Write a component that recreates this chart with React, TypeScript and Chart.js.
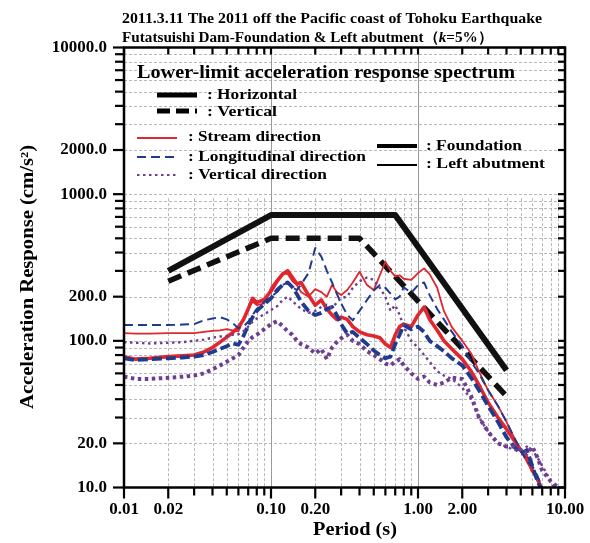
import React, { useEffect, useRef } from "react";
import { Chart, registerables } from "chart.js";
Chart.register(...registerables);

const periods = [
  0.01, 0.012, 0.015, 0.02, 0.025,
  0.03, 0.035, 0.04, 0.045, 0.05,
  0.055, 0.06, 0.065, 0.07, 0.075,
  0.08, 0.09, 0.1, 0.11, 0.12,
  0.13, 0.14, 0.15, 0.16, 0.18,
  0.2, 0.22, 0.24, 0.26, 0.28,
  0.3, 0.33, 0.36, 0.4, 0.45,
  0.5, 0.55, 0.6, 0.65, 0.7,
  0.75, 0.8, 0.9, 1.0, 1.1,
  1.2, 1.35, 1.5, 1.7, 2.0,
  2.3, 2.6, 3.0, 3.5, 4.0,
  4.5, 5.0, 5.5, 6.0, 6.5,
  7.0, 7.5, 8.0, 9.0,
];

const foundationStream = [
  78, 75, 76, 78, 79,
  80, 84, 90, 98, 106,
  114, 124, 140, 165, 195,
  182, 192, 218, 255, 285,
  300, 270, 245, 250, 205,
  175, 190, 165, 150, 140,
  145, 140, 125, 115, 110,
  108, 105, 95, 90, 110,
  125, 130, 125, 150, 170,
  140, 118, 100, 88, 75,
  62, 50, 38, 30, 25,
  21, 18, 16, 13, 11.5,
  9.5, 8, 7, 6,
];

const abutmentStream = [
  113, 112, 112, 113, 113,
  113, 115, 117, 118, 120,
  118, 116, 140, 168, 185,
  175, 180, 230, 262, 290,
  285, 255, 240, 215, 200,
  225, 215, 200, 240, 215,
  205, 222, 250, 296, 240,
  222, 280, 346, 300, 275,
  280, 265, 260, 290, 312,
  285, 230, 160, 124, 100,
  82, 62, 46, 36, 28,
  22, 18, 15, 13, 11,
  9.5, 8, 7, 6,
];

const foundationLongitudinal = [
  76, 74, 75, 76, 77,
  78, 80, 84, 88, 92,
  96, 94, 108, 128, 145,
  160, 178, 195, 222, 240,
  250, 232, 208, 185, 160,
  150, 155, 165, 170, 150,
  130, 112, 115, 105, 95,
  86, 80, 76, 78, 95,
  110, 128, 120, 125, 115,
  100, 92, 85, 76, 68,
  56, 46, 36, 28, 22,
  19, 17, 18, 14, 11,
  9.5, 8, 7, 6,
];

const abutmentLongitudinal = [
  128, 128, 128, 128, 129,
  130, 138, 142, 145, 140,
  132, 122, 125, 135, 150,
  165, 185, 200, 215, 240,
  250, 232, 222, 242, 290,
  430, 375, 300, 250, 210,
  180, 150, 138, 160, 190,
  220, 240, 230, 210, 192,
  200, 232, 212, 240, 250,
  205, 165, 140, 115, 92,
  72, 60, 46, 36, 28,
  22, 18, 15, 14, 12,
  10, 9, 8, 7,
];

const foundationVertical = [
  57, 55, 55, 56, 57,
  58, 60, 64, 68, 72,
  76, 80, 90, 100, 106,
  110, 120, 130, 136, 126,
  116, 110, 100, 95, 90,
  82, 88, 75, 90, 98,
  104, 110, 100, 95, 85,
  80, 75, 70, 68, 72,
  75, 68, 60, 55, 57,
  52, 50, 52, 56, 55,
  42, 30, 24, 20, 19,
  19, 18, 17, 19, 16,
  13, 12, 11, 10,
];

const abutmentVertical = [
  98, 97, 96, 97, 98,
  100, 102, 105, 107, 108,
  110, 111, 116, 125, 135,
  142, 152, 162, 172, 190,
  200, 186, 175, 165, 155,
  160, 170, 176, 168, 182,
  196, 200, 230, 255, 270,
  260, 230, 200, 160, 175,
  150, 125, 100, 90, 80,
  72, 62, 58, 55, 48,
  40, 30, 24, 20, 19,
  18, 18, 19, 18, 16,
  14, 12.5, 11, 9,
];

const specHorizontalT = [0.02, 0.1, 0.7, 4.0];
const specHorizontalV = [300, 720, 720, 63];
const specVerticalT = [0.02, 0.1, 0.4, 4.0];
const specVerticalV = [255, 500, 500, 42];

const xTickValues = [0.01, 0.02, 0.1, 0.2, 1, 2, 10];
const yTickValues = [10, 20, 100, 200, 1000, 2000, 10000];

const FONT = '"Liberation Serif", "Times New Roman", serif';
const RED = "#e0262e";
const BLUE = "#1f3b8f";
const PURPLE = "#6d3f92";

function pts(xs: number[], ys: number[]) {
  return xs.map((x, i) => ({ x, y: ys[i] }));
}

function ds(label: string, xs: number[], ys: number[], color: string, width: number, dash: number[]) {
  return {
    label,
    data: pts(xs, ys),
    borderColor: color,
    backgroundColor: color,
    borderWidth: width,
    borderDash: dash,
    pointRadius: 0,
    fill: false,
    tension: 0,
    borderCapStyle: "butt" as const,
    borderJoinStyle: "round" as const,
  };
}

function drawFit(ctx: CanvasRenderingContext2D, text: string, x: number, y: number, w: number, font: string) {
  ctx.save();
  ctx.font = font;
  const m = ctx.measureText(text).width;
  ctx.translate(x, y);
  ctx.scale(w / m, 1);
  ctx.textAlign = "left";
  ctx.textBaseline = "middle";
  ctx.fillStyle = "#000";
  ctx.fillText(text, 0, 0);
  ctx.restore();
}

function seg(ctx: CanvasRenderingContext2D, x1: number, y1: number, x2: number, y2: number) {
  ctx.beginPath();
  ctx.moveTo(x1, y1);
  ctx.lineTo(x2, y2);
  ctx.stroke();
}

const framePlugin = {
  id: "frameGrid",
  beforeDatasetsDraw(chart: any) {
    const { ctx, chartArea: a, scales } = chart;
    const x = scales.x;
    const y = scales.y;
    ctx.save();
    ctx.lineWidth = 1;
    ctx.strokeStyle = "#b8b8b8";
    ctx.setLineDash([3, 2]);
    for (let e = 1; e <= 3; e++) {
      for (let k = 1; k <= 9; k++) {
        const v = k * Math.pow(10, e);
        if (v <= 10 || v >= 10000) continue;
        const py = Math.round(y.getPixelForValue(v)) + 0.5;
        seg(ctx, a.left, py, a.right, py);
      }
    }
    const yTop = y.getPixelForValue(1000) + 4;
    for (let e = -2; e <= 0; e++) {
      for (let k = 2; k <= 9; k++) {
        const v = k * Math.pow(10, e);
        const px = Math.round(x.getPixelForValue(v)) + 0.5;
        seg(ctx, px, yTop, px, a.bottom);
      }
    }
    ctx.setLineDash([]);
    ctx.strokeStyle = "#9a9a9a";
    for (const v of [0.1, 1]) {
      const px = Math.round(x.getPixelForValue(v)) + 0.5;
      seg(ctx, px, a.top, px, a.bottom);
    }
    ctx.restore();
  },
  afterDatasetsDraw(chart: any) {
    const { ctx, chartArea: a, scales } = chart;
    const x = scales.x;
    const y = scales.y;
    ctx.save();
    ctx.strokeStyle = "#000";
    ctx.lineWidth = 2.5;
    ctx.setLineDash([]);
    ctx.strokeRect(a.left, a.top, a.right - a.left, a.bottom - a.top);
    ctx.lineWidth = 2.2;
    for (let e = -2; e <= 1; e++) {
      for (let k = 1; k <= 9; k++) {
        const v = k * Math.pow(10, e);
        if (v > 10.0001) continue;
        const px = x.getPixelForValue(v);
        const major = k === 1 || k === 2;
        seg(ctx, px, a.bottom, px, a.bottom + (major ? 11 : 8));
        seg(ctx, px, a.top, px, a.top + 7);
      }
    }
    for (let e = 1; e <= 4; e++) {
      for (let k = 1; k <= 9; k++) {
        const v = k * Math.pow(10, e);
        if (v > 10000.1) continue;
        const py = y.getPixelForValue(v);
        const major = k === 1 || k === 2;
        seg(ctx, a.left - (major ? 11 : 9), py, a.left, py);
        seg(ctx, a.right - 7, py, a.right, py);
      }
    }

    // titles
    const t1 = "2011.3.11 The 2011 off the Pacific coast of Tohoku Earthquake";
    drawFit(ctx, t1, 122, 19, 420, `bold 15px ${FONT}`);
    const partA = "Futatsuishi Dam-Foundation & Left abutment（";
    const partB = "k";
    const partC = "=5%）";
    const fB = `bold 15px ${FONT}`;
    const fI = `italic bold 15px ${FONT}`;
    ctx.font = fB;
    const wA = ctx.measureText(partA).width;
    const wC = ctx.measureText(partC).width;
    ctx.font = fI;
    const wB = ctx.measureText(partB).width;
    const s2 = 371 / (wA + wB + wC);
    drawFit(ctx, partA, 122, 38, wA * s2, fB);
    drawFit(ctx, partB, 122 + wA * s2, 38, wB * s2, fI);
    drawFit(ctx, partC, 122 + (wA + wB) * s2, 38, wC * s2, fB);

    // axis titles
    ctx.save();
    ctx.translate(28, 277);
    ctx.rotate(-Math.PI / 2);
    drawFit(ctx, "Acceleration Response (cm/s²)", -132, 0, 264, `bold 18px ${FONT}`);
    ctx.restore();
    drawFit(ctx, "Period (s)", 313, 530, 84, `bold 18px ${FONT}`);

    // legend
    drawFit(ctx, "Lower-limit acceleration response spectrum", 137, 73, 378, `bold 18px ${FONT}`);
    const lf = `bold 15px ${FONT}`;
    ctx.lineCap = "butt";
    ctx.strokeStyle = "#000";
    ctx.lineWidth = 5;
    seg(ctx, 157, 95, 197, 95);
    drawFit(ctx, ": Horizontal", 207, 95, 90, lf);
    ctx.setLineDash([13, 6]);
    seg(ctx, 157, 111, 197, 111);
    ctx.setLineDash([]);
    drawFit(ctx, ": Vertical", 207, 112, 70, lf);

    ctx.strokeStyle = RED;
    ctx.lineWidth = 1.8;
    seg(ctx, 137, 138, 177, 138);
    drawFit(ctx, ": Stream direction", 188, 137, 133, lf);
    ctx.strokeStyle = BLUE;
    ctx.setLineDash([9, 5]);
    seg(ctx, 137, 157, 177, 157);
    drawFit(ctx, ": Longitudinal direction", 188, 157, 178, lf);
    ctx.strokeStyle = PURPLE;
    ctx.lineWidth = 2.2;
    ctx.setLineDash([2.5, 3.5]);
    seg(ctx, 137, 175, 177, 175);
    ctx.setLineDash([]);
    drawFit(ctx, ": Vertical direction", 188, 175, 139, lf);

    ctx.strokeStyle = "#000";
    ctx.lineWidth = 3.8;
    seg(ctx, 377, 146, 417, 146);
    drawFit(ctx, ": Foundation", 426, 146, 96, lf);
    ctx.lineWidth = 2;
    seg(ctx, 377, 165, 417, 165);
    drawFit(ctx, ": Left abutment", 426, 164, 119, lf);
    ctx.restore();
  },
};

export default function App() {
  const ref = useRef<HTMLCanvasElement | null>(null);
  useEffect(() => {
    if (!ref.current) return;
    const chart = new Chart(ref.current, {
      type: "line",
      data: {
        datasets: [
          ds("Foundation vertical", periods, foundationVertical, PURPLE, 4, [3.5, 3.5]),
          ds("Left abutment vertical", periods, abutmentVertical, PURPLE, 2.4, [2.5, 3.5]),
          ds("Left abutment longitudinal", periods, abutmentLongitudinal, BLUE, 2, [9, 5]),
          ds("Foundation longitudinal", periods, foundationLongitudinal, BLUE, 3.8, [10, 4]),
          ds("Left abutment stream", periods, abutmentStream, RED, 1.8, []),
          ds("Foundation stream", periods, foundationStream, RED, 3.6, []),
          ds("Lower-limit vertical", specVerticalT, specVerticalV, "#111", 5.5, [14, 7]),
          ds("Lower-limit horizontal", specHorizontalT, specHorizontalV, "#111", 6, []),
        ] as any,
      },
      options: {
        responsive: false,
        animation: false,
        devicePixelRatio: 1,
        layout: { padding: { left: 0, right: 25, top: 47.5, bottom: 0 } },
        plugins: {
          legend: { display: false },
          tooltip: { enabled: false },
          title: { display: false },
        },
        scales: {
          x: {
            type: "logarithmic",
            min: 0.01,
            max: 10,
            afterBuildTicks: (s: any) => {
              s.ticks = xTickValues.map((v) => ({ value: v }));
            },
            afterFit: (s: any) => {
              s.height = 55.5;
              s.paddingLeft = 0;
              s.paddingRight = 0;
              s.paddingTop = 0;
              s.paddingBottom = 0;
            },
            grid: { display: false, drawTicks: false, tickLength: 0 },
            border: { display: false },
            ticks: {
              autoSkip: false,
              maxRotation: 0,
              minRotation: 0,
              padding: 12,
              color: "#000",
              font: { family: FONT, size: 17, weight: "bold" },
              callback: (v: any) => Number(v).toFixed(2),
            },
          },
          y: {
            type: "logarithmic",
            min: 10,
            max: 10000,
            afterBuildTicks: (s: any) => {
              s.ticks = yTickValues.map((v) => ({ value: v }));
            },
            afterFit: (s: any) => {
              s.width = 124;
              s.paddingLeft = 0;
              s.paddingRight = 0;
              s.paddingTop = 0;
              s.paddingBottom = 0;
            },
            grid: { display: false, drawTicks: false, tickLength: 0 },
            border: { display: false },
            ticks: {
              autoSkip: false,
              padding: 17,
              color: "#000",
              font: { family: FONT, size: 17, weight: "bold" },
              callback: (v: any) => Number(v).toFixed(1),
            },
          },
        },
      } as any,
      plugins: [framePlugin],
    });
    return () => chart.destroy();
  }, []);
  return (
    <div style={{ position: "absolute", left: 0, top: 0, width: 590, height: 543, background: "#fff" }}>
      <canvas ref={ref} width={590} height={543} style={{ display: "block" }} />
    </div>
  );
}
